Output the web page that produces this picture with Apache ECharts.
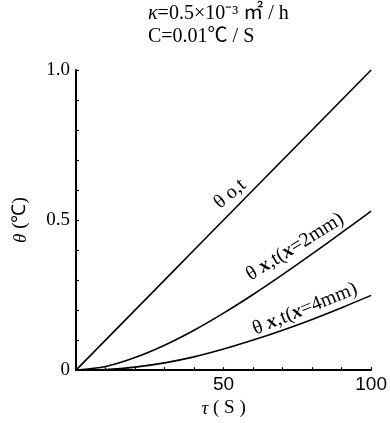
<!DOCTYPE html>
<html><head><meta charset="utf-8">
<script src="https://cdn.jsdelivr.net/npm/echarts@6/dist/echarts.min.js"></script>
<style>html,body{margin:0;padding:0;background:#fff}#c{width:390px;height:423px}</style>
</head><body><div id="c"></div>
<script>
const times = [0, 10, 20, 30, 40, 50, 60, 70, 80, 90, 100];
const thetaSurface = [0, 0.10, 0.20, 0.30, 0.40, 0.50, 0.60, 0.70, 0.80, 0.90, 1.00];
const theta2mm = [0, 0.012, 0.042, 0.083, 0.133, 0.190, 0.252, 0.318, 0.387, 0.458, 0.530];
const theta4mm = [0, 0.002, 0.010, 0.024, 0.044, 0.070, 0.100, 0.133, 0.169, 0.208, 0.249];
const yLabels = {0: '0', 0.5: '0.5', 1: '1.0'};
const xLabels = {50: '50', 100: '100'};

const pair = arr => times.map((t, i) => [t, arr[i]]);
const lineStyle = {color: '#000', width: 1.6};
const serif = 'Liberation Serif';
const cjk = '"Liberation Serif", "Noto Sans CJK JP"';
const richLbl = {
  n: {fontFamily: serif, fontSize: 20, fill: '#000'},
  b: {fontFamily: serif, fontSize: 20, fontWeight: 'bold', fontStyle: 'italic', fill: '#000'}
};
const richTitle = {
  n: {fontFamily: cjk, fontSize: 20, fill: '#000'},
  i: {fontFamily: serif, fontSize: 20, fontStyle: 'italic', fill: '#000'}
};
const chart = echarts.init(document.getElementById('c'));
chart.setOption({
  animation: false,
  backgroundColor: '#fff',
  grid: {left: 76, right: 14, top: 70, bottom: 49},
  xAxis: {
    type: 'value', min: 0, max: 100, interval: 10,
    name: '{i|τ} ( S )', nameLocation: 'middle', nameGap: 24,
    nameTextStyle: {fontFamily: serif, fontSize: 19, color: '#000',
      rich: {i: {fontFamily: serif, fontSize: 19, fontStyle: 'italic', color: '#000'}}},
    axisLine: {show: true, lineStyle: {color: '#000', width: 2}},
    axisTick: {show: true, inside: true, length: 3, lineStyle: {color: '#000', width: 1.2}},
    splitLine: {show: false},
    axisLabel: {
      fontFamily: 'Liberation Sans', fontSize: 19, color: '#000', margin: 5,
      formatter: v => xLabels[v] || ''
    }
  },
  yAxis: {
    type: 'value', min: 0, max: 1, interval: 0.1,
    name: '{i|θ} (℃)', nameLocation: 'middle', nameGap: 46, nameRotate: 90,
    nameTextStyle: {fontFamily: serif, fontSize: 19, color: '#000',
      rich: {i: {fontFamily: serif, fontSize: 19, fontStyle: 'italic', color: '#000'}}},
    axisLine: {show: true, lineStyle: {color: '#000', width: 2}},
    axisTick: {show: true, inside: true, length: 3, lineStyle: {color: '#000', width: 1.2}},
    splitLine: {show: false},
    axisLabel: {
      fontFamily: serif, fontSize: 19, color: '#000', margin: 6,
      formatter: v => {
        const k = Math.round(v * 10) / 10;
        return yLabels[k] !== undefined && Math.abs(v - k) < 1e-6 ? yLabels[k] : '';
      }
    }
  },
  series: [
    {type: 'line', data: pair(thetaSurface), symbol: 'none', lineStyle},
    {type: 'line', data: pair(theta2mm), symbol: 'none', smooth: 0.3, lineStyle},
    {type: 'line', data: pair(theta4mm), symbol: 'none', smooth: 0.3, lineStyle}
  ],
  graphic: [
    {type: 'text', left: 148, top: 4, style: {text: '{i|κ}{n|=0.5×10⁻³ ㎡ / h}', rich: richTitle}},
    {type: 'text', left: 148, top: 27, style: {text: '{n|C=0.01℃ / S}', rich: richTitle}},
    {type: 'text', x: 230, y: 194, rotation: 40 * Math.PI / 180,
      style: {text: '{n|θ o,t}', rich: richLbl, align: 'center', verticalAlign: 'middle'}},
    {type: 'text', x: 295, y: 247, rotation: 32 * Math.PI / 180,
      style: {text: '{n|θ }{b|x}{n|,t(}{b|x}{n|=2mm)}', rich: richLbl, align: 'center', verticalAlign: 'middle'}},
    {type: 'text', x: 305, y: 309, rotation: 22 * Math.PI / 180,
      style: {text: '{n|θ }{b|x}{n|,t(}{b|x}{n|=4mm)}', rich: richLbl, align: 'center', verticalAlign: 'middle'}}
  ]
});
</script></body></html>
